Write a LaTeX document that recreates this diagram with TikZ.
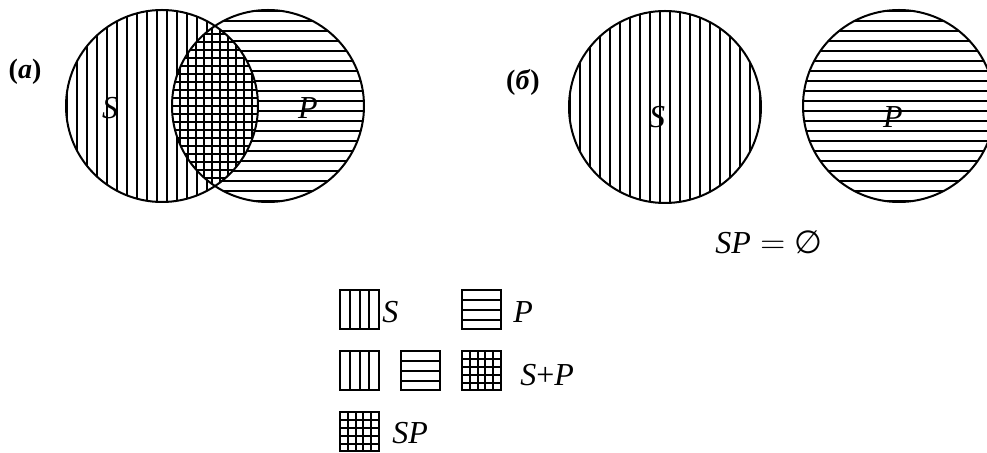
\documentclass[tikz,border=0pt]{standalone}
\usepackage{fontspec}
\setmainfont{Liberation Serif}
\newfontfamily\symfont{DejaVu Sans}
\usetikzlibrary{calc}

\begin{document}
\begin{tikzpicture}[x=0.5pt, y=-0.5pt,
  ring/.style={line width=1pt},
  st/.style={line width=1pt},
  lab/.style={font=\fontsize{16}{19}\selectfont, inner sep=0pt},
  tag/.style={font=\fontsize{14}{17}\selectfont\bfseries, inner sep=0pt},
  key/.style={draw, line width=1pt, minimum size=19.5pt, inner sep=0pt},
  vkey/.style={key, path picture={
    \foreach \i in {1,2,3}
      \draw[st] ($(path picture bounding box.south west)!\i/4!(path picture bounding box.south east)$)
             -- ($(path picture bounding box.north west)!\i/4!(path picture bounding box.north east)$);}},
  hkey/.style={key, path picture={
    \foreach \i in {1,2,3}
      \draw[st] ($(path picture bounding box.south west)!\i/4!(path picture bounding box.north west)$)
             -- ($(path picture bounding box.south east)!\i/4!(path picture bounding box.north east)$);}},
  xkey/.style={key, path picture={
    \foreach \i in {1,...,4} {
      \draw[st] ($(path picture bounding box.south west)!\i/5!(path picture bounding box.south east)$)
             -- ($(path picture bounding box.north west)!\i/5!(path picture bounding box.north east)$);
      \draw[st] ($(path picture bounding box.south west)!\i/5!(path picture bounding box.north west)$)
             -- ($(path picture bounding box.south east)!\i/5!(path picture bounding box.north east)$);}}}
]
\useasboundingbox (0,0) rectangle (987,453);

% centres of the four circles
\coordinate (Sa) at (162,106);
\coordinate (Pa) at (268,106);
\coordinate (Sb) at (665,107);
\coordinate (Pb) at (899,106);

% (a) intersecting sets
\begin{scope}
  \clip (Sa) circle (96);
  \foreach \x in {-95,-85,...,95} \draw[st] ($(Sa)+(\x,-100)$) -- ++(0,200);
\end{scope}
\begin{scope}
  \clip (Pa) circle (96);
  \foreach \y in {-95,-85,...,95} \draw[st] ($(Pa)+(-100,\y)$) -- ++(200,0);
\end{scope}
\begin{scope}
  \clip (Sa) circle (96);
  \clip (Pa) circle (96);
  \fill[white] (160,0) rectangle (270,210);
  \foreach \x in {172,180,...,260} \draw[st] (\x,0) -- (\x,210);
  \foreach \y in {10,18,...,202} \draw[st] (160,\y) -- (270,\y);
\end{scope}
\draw[ring] (Sa) circle (96);
\draw[ring] (Pa) circle (96);

% (b) disjoint sets
\begin{scope}
  \clip (Sb) circle (96);
  \foreach \x in {-95,-85,...,95} \draw[st] ($(Sb)+(\x,-100)$) -- ++(0,200);
\end{scope}
\begin{scope}
  \clip (Pb) circle (96);
  \foreach \y in {-95,-85,...,95} \draw[st] ($(Pb)+(-100,\y)$) -- ++(200,0);
\end{scope}
\draw[ring] (Sb) circle (96);
\draw[ring] (Pb) circle (96);

% labels
\node[tag] (ta) at (25,72) {(\textit{а})};
\node[tag] (tb) at (523,82) {(\textit{б})};
\node[lab] (sa) at (110,108) {\textit{S}};
\node[lab] (pa) at (308,108) {\textit{P}};
\node[lab] (sb) at (657,117) {\textit{S}};
\node[lab] (pb) at (893,117) {\textit{P}};
\node[lab] (empty) at (769,242) {\textit{SP}${}={}${\symfont ∅}};

% legend
\node[vkey] (k1) at (359.5,310) {};
\node[hkey] (k2) at (481.5,310) {};
\node[vkey] (k3) at (359.5,371) {};
\node[hkey] (k4) at (420.5,371) {};
\node[xkey] (k5) at (481.5,371) {};
\node[xkey] (k6) at (359.5,432) {};
\node[lab, anchor=west] (l1) at (382,312) {\textit{S}};
\node[lab, anchor=west] (l2) at (513,312) {\textit{P}};
\node[lab, anchor=west] (l5) at (520,375) {\textit{S}+\textit{P}};
\node[lab, anchor=west] (l6) at (392,433) {\textit{SP}};
\end{tikzpicture}
\end{document}
